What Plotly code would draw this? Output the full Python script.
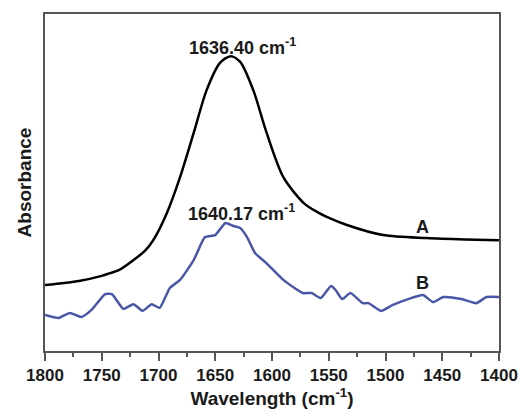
import plotly.graph_objects as go

# Curve A (black)
wn_a = [1800, 1770, 1750, 1742.7, 1735, 1722, 1712, 1704.6, 1692.7, 1681, 1669, 1657.6,
        1645.8, 1636.4, 1628, 1616.5, 1604.7, 1590, 1572, 1560, 1551.8, 1534, 1502, 1464, 1430, 1400]
abs_a = [0.196, 0.208, 0.223, 0.231, 0.240, 0.270, 0.297, 0.329, 0.409, 0.516, 0.647, 0.774,
         0.855, 0.875, 0.858, 0.774, 0.647, 0.516, 0.439, 0.412, 0.398, 0.374, 0.344, 0.335, 0.331, 0.329]

# Curve B (blue)
wn_b = [1800, 1788, 1778, 1768, 1759, 1747, 1741, 1731, 1722, 1714, 1706, 1699, 1690, 1681,
        1669, 1659, 1650, 1641, 1634, 1628, 1622, 1615, 1605, 1590, 1573, 1565, 1557, 1548,
        1544, 1538, 1531, 1520, 1515, 1504, 1494, 1480, 1467, 1458, 1449, 1433, 1420, 1411, 1400]
abs_b = [0.107, 0.098, 0.113, 0.101, 0.122, 0.169, 0.169, 0.125, 0.139, 0.119, 0.139, 0.128,
         0.187, 0.211, 0.270, 0.338, 0.344, 0.380, 0.371, 0.365, 0.338, 0.291, 0.261, 0.211,
         0.172, 0.172, 0.157, 0.193, 0.181, 0.154, 0.172, 0.142, 0.142, 0.119, 0.136, 0.154,
         0.166, 0.145, 0.160, 0.154, 0.142, 0.160, 0.160]

x_ticks = [1800, 1750, 1700, 1650, 1600, 1550, 1500, 1450, 1400]

FONT = "Liberation Sans, Arial, sans-serif"

fig = go.Figure()
fig.add_trace(go.Scatter(x=wn_a, y=abs_a, mode="lines",
                         line=dict(color="#000000", width=2.5, shape="spline", smoothing=0.8),
                         showlegend=False))
fig.add_trace(go.Scatter(x=wn_b, y=abs_b, mode="lines",
                         line=dict(color="#4b56a6", width=2.5, shape="spline", smoothing=0.5),
                         showlegend=False))

annots = [
    dict(x=1626, y=0.905, text="<b>1636.40 cm<sup>-1</sup></b>", size=18),
    dict(x=1627, y=0.41, text="<b>1640.17 cm<sup>-1</sup></b>", size=18),
    dict(x=1467, y=0.368, text="<b>A</b>", size=18),
    dict(x=1467, y=0.202, text="<b>B</b>", size=18),
]
for a in annots:
    fig.add_annotation(x=a["x"], y=a["y"], text=a["text"], showarrow=False,
                       font=dict(family=FONT, size=a["size"], color="#1a1a1a"))

fig.update_layout(
    width=527, height=411,
    margin=dict(l=45, r=28, t=14, b=60),
    paper_bgcolor="white", plot_bgcolor="white",
    font=dict(family=FONT, color="#1a1a1a"),
    xaxis=dict(
        range=[1800, 1400], tickvals=x_ticks,
        ticktext=[f"<b>{v}</b>" for v in x_ticks],
        tickfont=dict(size=17), ticks="outside", ticklen=8, tickwidth=1.5, tickcolor="#555",
        minor=dict(ticks="outside", ticklen=4, dtick=25, tickwidth=1.5, tickcolor="#555"),
        showline=True, linecolor="#555", linewidth=2, mirror=True,
        showgrid=False, zeroline=False, automargin=False,
        title=dict(text="<b>Wavelength (cm<sup>-1</sup>)</b>", font=dict(size=19), standoff=4),
    ),
    yaxis=dict(
        range=[0, 1], showticklabels=False, ticks="",
        showline=True, linecolor="#555", linewidth=2, mirror=True,
        showgrid=False, zeroline=False, automargin=False,
        title=dict(text="<b>Absorbance</b>", font=dict(size=19), standoff=6),
    ),
)

fig.write_html("out.html", config={"displayModeBar": False},
               post_script="document.body.style.margin='0';document.body.style.padding='0';")
